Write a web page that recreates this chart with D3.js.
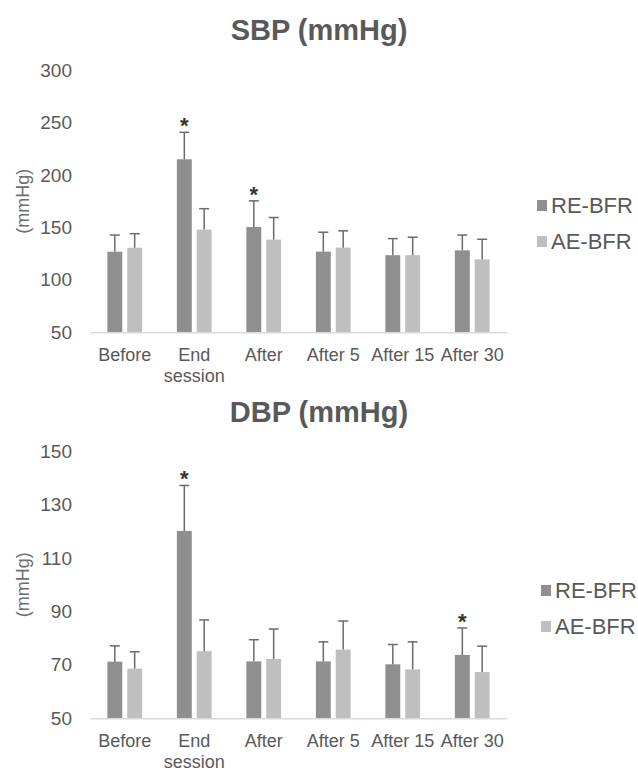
<!DOCTYPE html>
<html>
<head>
<meta charset="utf-8">
<script src="https://cdn.jsdelivr.net/npm/d3@7"></script>
<style>
  body { margin: 0; background: #fff; }
  text { font-family: "Liberation Sans", Arial, sans-serif; }
</style>
</head>
<body>
<svg id="chart"></svg>
<script>
const width = 638;
const height = 771;

// data (mean and upper error = SD)
const categories = ["Before", "End session", "After", "After 5", "After 15", "After 30"];
const seriesNames = ["RE-BFR", "AE-BFR"];

const sbpRE = [126.8, 214.9, 150.4, 126.9, 123.5, 128.1];
const sbpRESd = [15.9, 25.7, 24.9, 18.5, 15.8, 14.6];
const sbpAE = [130.6, 147.8, 138.3, 130.7, 123.5, 119.5];
const sbpAESd = [13.4, 20.0, 21.1, 16.0, 17.1, 19.2];
const sbpTicks = [50, 100, 150, 200, 250, 300];
const sbpStars = ["End session", "After"];

const dbpRE = [71.2, 120.1, 71.3, 71.3, 70.2, 73.7];
const dbpRESd = [5.9, 17.0, 8.1, 7.3, 7.4, 10.1];
const dbpAE = [68.6, 75.1, 72.2, 75.7, 68.3, 67.3];
const dbpAESd = [6.3, 11.7, 11.2, 10.7, 10.3, 9.7];
const dbpTicks = [50, 70, 90, 110, 130, 150];
const dbpStars = ["End session", "After 30"];

const colors = {"RE-BFR": "#8f8f8f", "AE-BFR": "#bfbfbf"};
const textColor = "#595959";

const svg = d3.select("#chart")
    .attr("width", width)
    .attr("height", height);

// wrap long tick labels onto several lines
function wrap(texts, maxWidth, lineHeight) {
    texts.each(function() {
        const text = d3.select(this);
        const words = text.text().split(" ");
        const y = text.attr("y");
        text.text(null);
        let line = [];
        let lineNo = 0;
        let tspan = text.append("tspan").attr("x", 0).attr("y", y);
        words.forEach(w => {
            line.push(w);
            tspan.text(line.join(" "));
            if (tspan.node().getComputedTextLength() > maxWidth && line.length > 1) {
                line.pop();
                tspan.text(line.join(" "));
                line = [w];
                lineNo++;
                tspan = text.append("tspan").attr("x", 0).attr("y", +y + lineNo * lineHeight).text(w);
            }
        });
    });
}

function drawChart(cfg) {
    const g = svg.append("g");

    const x = d3.scaleBand()
        .domain(categories)
        .range([90, 507])
        .paddingInner(0.5)
        .paddingOuter(0.25);

    const xInner = d3.scaleBand()
        .domain(seriesNames)
        .range([0, x.bandwidth()])
        .paddingInner(0.25);

    const y = d3.scaleLinear()
        .domain(cfg.domain)
        .range([cfg.bottom, cfg.top]);

    // title
    g.append("text")
        .attr("x", 319)
        .attr("y", cfg.titleY)
        .attr("text-anchor", "middle")
        .attr("font-size", 29)
        .attr("font-weight", "bold")
        .attr("fill", textColor)
        .text(cfg.title);

    // y axis (labels only)
    g.append("g")
        .attr("transform", "translate(90,0)")
        .call(d3.axisLeft(y).tickValues(cfg.ticks).tickSize(0).tickPadding(18))
        .call(a => a.select(".domain").remove())
        .selectAll("text")
        .attr("font-size", 19)
        .attr("fill", textColor);

    g.append("text")
        .attr("transform", `translate(23,${(cfg.top + cfg.bottom) / 2}) rotate(-90)`)
        .attr("text-anchor", "middle")
        .attr("dominant-baseline", "central")
        .attr("font-size", 18)
        .attr("fill", "#6f6f6f")
        .text("(mmHg)");

    // bars
    const rows = categories.map((c, i) => ({
        cat: c,
        vals: [
            {name: "RE-BFR", v: cfg.re[i], sd: cfg.reSd[i]},
            {name: "AE-BFR", v: cfg.ae[i], sd: cfg.aeSd[i]}
        ]
    }));

    const groups = g.selectAll(".grp")
        .data(rows)
        .join("g")
        .attr("class", "grp")
        .attr("transform", d => `translate(${x(d.cat)},0)`);

    groups.selectAll("rect")
        .data(d => d.vals)
        .join("rect")
        .attr("x", d => xInner(d.name))
        .attr("width", xInner.bandwidth())
        .attr("y", d => y(d.v))
        .attr("height", d => y(cfg.domain[0]) - y(d.v))
        .attr("fill", d => colors[d.name]);

    // error bars (upper only)
    const err = groups.selectAll(".err")
        .data(d => d.vals)
        .join("g")
        .attr("class", "err")
        .attr("stroke", "#6b6b6b")
        .attr("stroke-width", 1.5);
    err.append("line")
        .attr("x1", d => xInner(d.name) + xInner.bandwidth() / 2)
        .attr("x2", d => xInner(d.name) + xInner.bandwidth() / 2)
        .attr("y1", d => y(d.v))
        .attr("y2", d => y(d.v + d.sd));
    err.append("line")
        .attr("x1", d => xInner(d.name) + xInner.bandwidth() / 2 - 5)
        .attr("x2", d => xInner(d.name) + xInner.bandwidth() / 2 + 5)
        .attr("y1", d => y(d.v + d.sd))
        .attr("y2", d => y(d.v + d.sd));

    // significance stars on RE-BFR
    g.selectAll(".star")
        .data(rows.filter(r => cfg.stars.includes(r.cat)))
        .join("text")
        .attr("class", "star")
        .attr("x", d => x(d.cat) + xInner("RE-BFR") + xInner.bandwidth() / 2)
        .attr("y", d => y(d.vals[0].v + d.vals[0].sd) + 1)
        .attr("text-anchor", "middle")
        .attr("font-size", 22)
        .attr("font-weight", "bold")
        .attr("fill", "#333")
        .text("*");

    // x axis
    const xAxis = g.append("g")
        .attr("transform", `translate(0,${cfg.bottom})`)
        .call(d3.axisBottom(x).tickSize(0).tickSizeOuter(0));
    xAxis.select(".domain")
        .attr("stroke", "#d9d9d9")
        .attr("stroke-width", 1.5);
    xAxis.selectAll("text")
        .attr("font-size", 18)
        .attr("fill", textColor)
        .attr("y", 28.4)
        .attr("dy", 0)
        .call(wrap, x.step(), 21.6);

    // legend
    const legend = g.append("g")
        .attr("transform", `translate(${cfg.legendX},${cfg.legendY})`);
    const item = legend.selectAll("g")
        .data(seriesNames)
        .join("g")
        .attr("transform", (d, i) => `translate(0,${i * 36})`);
    item.append("rect")
        .attr("x", 0)
        .attr("y", -5)
        .attr("width", 10)
        .attr("height", 11)
        .attr("fill", d => colors[d]);
    item.append("text")
        .attr("x", 14)
        .attr("y", 0)
        .attr("dy", "0.35em")
        .attr("font-size", 22)
        .attr("fill", textColor)
        .text(d => d);
}

drawChart({
    title: "SBP (mmHg)", titleY: 40,
    domain: [50, 300], ticks: sbpTicks,
    top: 70, bottom: 332.3,
    re: sbpRE, reSd: sbpRESd, ae: sbpAE, aeSd: sbpAESd,
    stars: sbpStars,
    legendX: 537, legendY: 205
});

drawChart({
    title: "DBP (mmHg)", titleY: 422,
    domain: [50, 150], ticks: dbpTicks,
    top: 451, bottom: 718.3,
    re: dbpRE, reSd: dbpRESd, ae: dbpAE, aeSd: dbpAESd,
    stars: dbpStars,
    legendX: 541, legendY: 590
});
</script>
</body>
</html>
